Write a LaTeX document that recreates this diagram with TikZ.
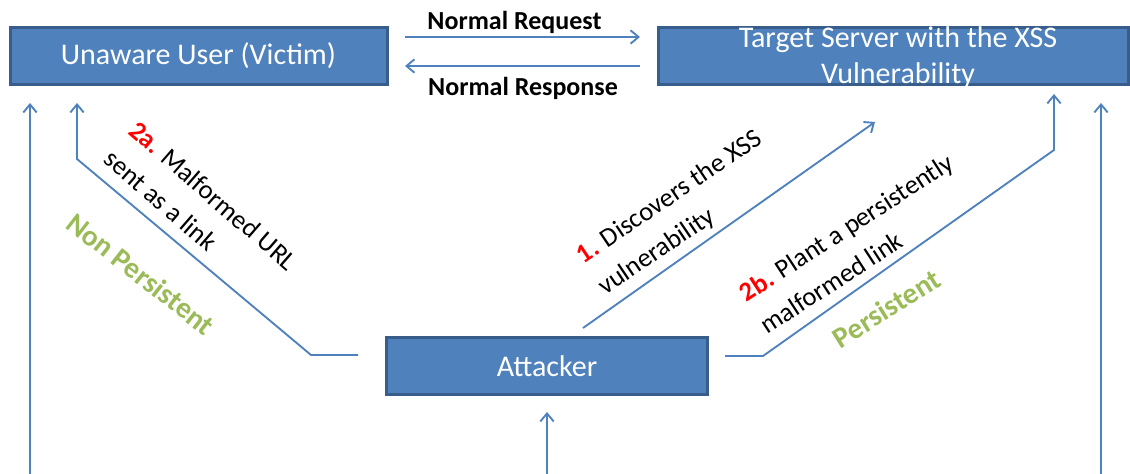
\documentclass[tikz,border=0pt]{standalone}
\usepackage{fontspec}
\setmainfont{Carlito}
\usetikzlibrary{arrows.meta,calc}
\definecolor{boxblue}{HTML}{4F81BD}
\definecolor{boxedge}{HTML}{385D8A}
\definecolor{pgreen}{HTML}{9BBB59}
\definecolor{pred}{HTML}{FF0000}
\begin{document}
\begin{tikzpicture}[x=0.75pt,y=-0.75pt,
  box/.style={draw=boxedge,line width=2.2pt,fill=boxblue,inner sep=0pt},
  boxtext/.style={text=white,font=\fontsize{22.5}{27}\selectfont,inner sep=0pt,align=center},
  conn/.style={draw=boxblue,line width=1.4pt,-{Straight Barb[length=6pt,width=10pt,line width=1.4pt]}},
  steplabel/.style={font=\fontsize{20}{28.5}\selectfont,align=left,inner sep=0pt},
  kind/.style={text=pgreen,font=\bfseries\fontsize{22}{24}\selectfont,inner sep=0pt},
  msg/.style={font=\bfseries\fontsize{19.5}{23}\selectfont,inner sep=0pt,anchor=base}]
\clip (0,0) rectangle (1130,474);
% boxes
\node[box,minimum width=283pt,minimum height=43pt] (user) at (199,56) {};
\node[box,minimum width=353pt,minimum height=43pt] (target) at (893.5,56) {};
\node[box,minimum width=241pt,minimum height=43pt] (attacker) at (547,366) {};
\node[boxtext,anchor=base] (usertext) at (198.5,65) {Unaware User (Victim)};
\node[boxtext] (targettext) at (898,57.5) {Target Server with the XSS\\Vulnerability};
\node[boxtext,anchor=base] (attackertext) at (547,376) {Attacker};
% free ends
\coordinate (leftbot) at (30,474);
\coordinate (midbot) at (547,474);
\coordinate (rightbot) at (1101,474);
% normal traffic
\draw[conn] ($(user.center)+(206,-19)$) -- ($(target.center)+(-253.5,-19)$);
\draw[conn] ($(target.center)+(-253.5,10)$) -- ($(user.center)+(206,10)$);
\node[msg] (req) at (514.5,30) {Normal Request};
\node[msg] (resp) at (523,96) {Normal Response};
% verticals
\draw[conn] (leftbot) -- ($(user.center)+(-169,47)$);
\draw[conn] (midbot) -- ($(attacker.center)+(0,46)$);
\draw[conn] (rightbot) -- ($(target.center)+(207.5,47)$);
% attack paths
\draw[conn] ($(attacker.center)+(-189,-11)$) -- ($(attacker.center)+(-236,-11)$) -- ($(user.center)+(-122,103)$) -- ($(user.center)+(-122,47)$);
\draw[conn] ($(attacker.center)+(36,-38)$) -- ($(target.center)+(-18.5,66)$);
\draw[conn] ($(attacker.center)+(178,-10)$) -- ($(attacker.center)+(216,-10)$) -- ($(target.center)+(160.5,94)$) -- ($(target.center)+(160.5,38)$);
% labels
\node[steplabel,rotate=-41] (l2a) at (201,210) {\textcolor{pred}{\bfseries 2a.} Malformed URL\\sent as a link};
\node[steplabel,rotate=34] (l1) at (680.6,213.3) {\textcolor{pred}{\bfseries 1.} Discovers the XSS\\vulnerability};
\node[steplabel,rotate=33] (l2b) at (856.4,243.4) {\textcolor{pred}{\bfseries 2b.} Plant a persistently\\malformed link};
\node[kind,rotate=-38] (np) at (141,274) {Non Persistent};
\node[kind,rotate=32] (p) at (886.5,308.5) {Persistent};
\end{tikzpicture}
\end{document}
